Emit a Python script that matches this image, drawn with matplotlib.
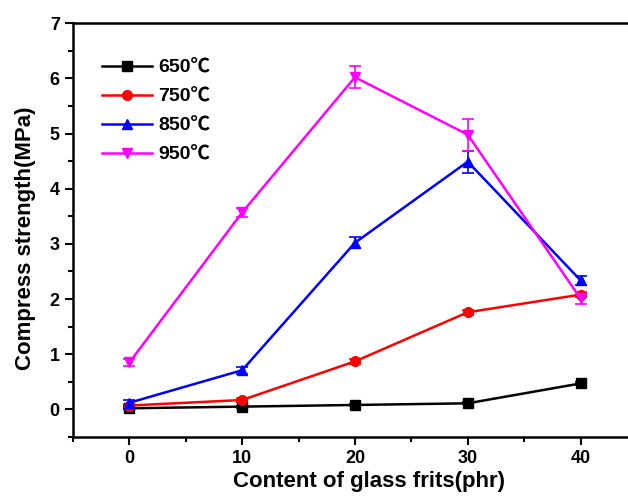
import matplotlib
matplotlib.use("Agg")
import matplotlib.pyplot as plt
from matplotlib.ticker import MultipleLocator

plt.rcParams['font.family'] = ['Liberation Sans', 'Noto Sans CJK SC', 'DejaVu Sans']

# glass frit content (phr)
content = [0, 10, 20, 30, 40]

# compress strength (MPa) per sintering temperature
s650 = [0.02, 0.05, 0.08, 0.11, 0.47]
s750 = [0.07, 0.17, 0.87, 1.76, 2.08]
s850 = [0.12, 0.71, 3.02, 4.49, 2.34]
s950 = [0.85, 3.57, 6.02, 4.98, 2.01]

e650 = [0.02, 0.02, 0.02, 0.02, 0.03]
e750 = [0.03, 0.04, 0.04, 0.05, 0.05]
e850 = [0.05, 0.06, 0.10, 0.20, 0.08]
e950 = [0.06, 0.08, 0.20, 0.29, 0.10]

labels = ['650℃', '750℃', '850℃', '950℃']
colors = ['black', 'red', 'blue', 'magenta']
markers = ['s', 'o', '^', 'v']

fig = plt.figure(figsize=(6.28, 5.04), dpi=100)
ax = fig.add_axes([0.1162, 0.133, 0.898, 0.821])

series = [s650, s750, s850, s950]
errs = [e650, e750, e850, e950]
for ys, es, lab, c, m in zip(series, errs, labels, colors, markers):
    ax.errorbar(content, ys, yerr=es, color=c, marker=m, markersize=7,
                linewidth=1.8, capsize=4, elinewidth=1.2, capthick=1.2,
                label=lab)

ax.set_xlim(-5, 45)
ax.set_ylim(-0.5, 7)
ax.xaxis.set_major_locator(MultipleLocator(10))
ax.xaxis.set_minor_locator(MultipleLocator(5))
ax.yaxis.set_major_locator(MultipleLocator(1))
ax.yaxis.set_minor_locator(MultipleLocator(0.5))
ax.tick_params(which='major', direction='out', length=6, width=1.5, labelsize=13)
ax.tick_params(which='minor', direction='out', length=3.5, width=1.5)
ax.tick_params(top=False, right=False)
for sp in ['left', 'bottom', 'top']:
    ax.spines[sp].set_linewidth(1.8)
ax.spines['right'].set_visible(False)

for t in ax.get_xticklabels() + ax.get_yticklabels():
    t.set_fontweight('bold')

ax.set_xlabel('Content of glass frits(phr)', fontsize=16, fontweight='bold')
ax.set_ylabel('Compress strength(MPa)', fontsize=16, fontweight='bold')
ax.xaxis.set_label_coords(0.525, -0.082)
ax.yaxis.set_label_coords(-0.066, 0.48)

handles, labs = ax.get_legend_handles_labels()
leg = ax.legend([h[0] for h in handles], labs, loc='upper left',
                bbox_to_anchor=(0.02, 0.955), frameon=False, fontsize=14,
                handlelength=2.6, handletextpad=0.3, labelspacing=0.58)
for t in leg.get_texts():
    t.set_fontweight('bold')

fig.savefig('out.png', dpi=100)
